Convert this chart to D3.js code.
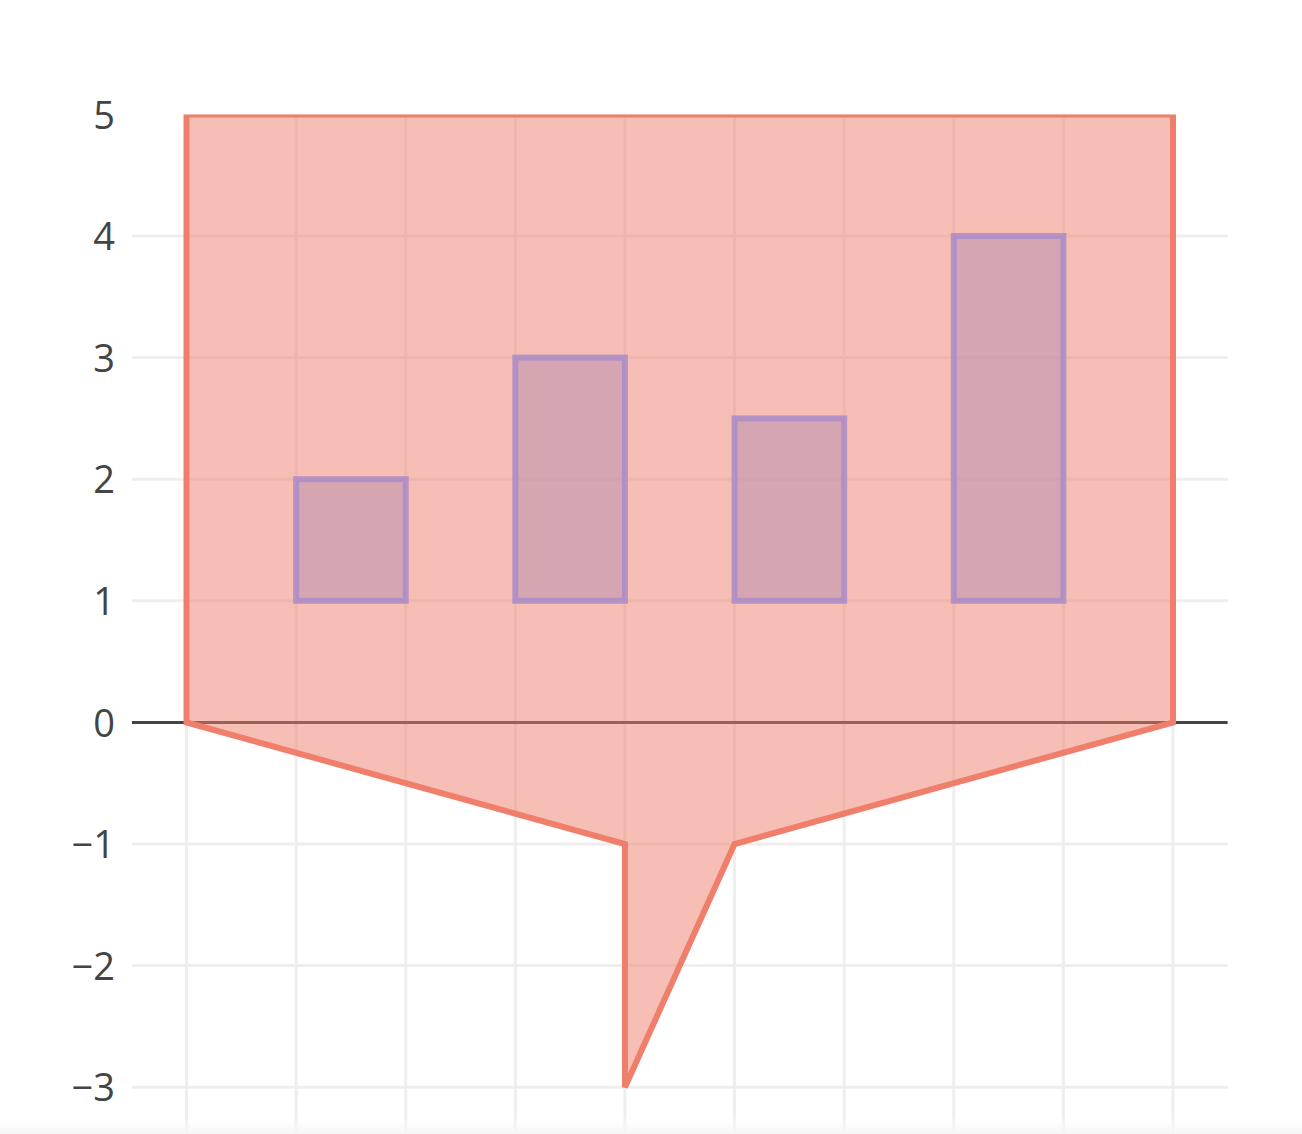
<!DOCTYPE html>
<html>
<head>
<meta charset="utf-8">
<script src="https://cdn.jsdelivr.net/npm/d3@7"></script>
<style>
html,body{margin:0;padding:0;background:#fff;}
svg{display:block;}
</style>
</head>
<body>
<svg id="chart" width="1302" height="1134"></svg>
<script>
// ---- data ----
const xTicks = [0, 1, 2, 3, 4, 5, 6, 7, 8, 9];
const yTicks = [-3, -2, -1, 0, 1, 2, 3, 4, 5];
const polyX = [0, 0, 9, 9, 5, 4, 4];
const polyY = [0, 5, 5, 0, -1, -3, -1];
const barX0 = [1, 3, 5, 7];
const barX1 = [2, 4, 6, 8];
const barY0 = [1, 1, 1, 1];
const barY1 = [2, 3, 2.5, 4];

// ---- layout ----
const W = 1302, H = 1134;
const plotLeft = 131.7, plotRight = 1227.8, plotTop = 114.4;
const x = d3.scaleLinear().domain([-0.5, 9.5]).range([plotLeft, plotRight]);
const y = d3.scaleLinear().domain([-3.5, 5]).range([plotTop + 8.5 * 121.6, plotTop]);

const svg = d3.select("#chart");
const defs = svg.append("defs");
defs.append("clipPath").attr("id", "plotclip")
  .append("rect").attr("x", plotLeft).attr("y", plotTop)
  .attr("width", plotRight - plotLeft).attr("height", H - plotTop + 50);
const grad = defs.append("linearGradient").attr("id", "bottomfade")
  .attr("x1", 0).attr("x2", 0).attr("y1", 0).attr("y2", 1);
grad.append("stop").attr("offset", "0%").attr("stop-color", "#ffffff").attr("stop-opacity", 0);
grad.append("stop").attr("offset", "100%").attr("stop-color", "#f3f4f6").attr("stop-opacity", 1);

const plot = svg.append("g").attr("clip-path", "url(#plotclip)");

// vertical grid
plot.append("g").selectAll("line").data(xTicks).join("line")
  .attr("x1", d => x(d)).attr("x2", d => x(d))
  .attr("y1", plotTop).attr("y2", H + 20)
  .attr("stroke", "#eeeeee").attr("stroke-width", 3);

// horizontal grid (skip zero line and top edge)
plot.append("g").selectAll("line").data(yTicks.filter(d => d !== 0 && d !== 5)).join("line")
  .attr("x1", plotLeft).attr("x2", plotRight)
  .attr("y1", d => y(d)).attr("y2", d => y(d))
  .attr("stroke", "#eeeeee").attr("stroke-width", 3);

// zero line
plot.append("line")
  .attr("x1", plotLeft).attr("x2", plotRight)
  .attr("y1", y(0)).attr("y2", y(0))
  .attr("stroke", "#444444").attr("stroke-width", 3);

// polygon shape
const polyPts = polyX.map((v, i) => [x(v), y(polyY[i])]);
plot.append("path")
  .attr("d", d3.line()(polyPts) + "Z")
  .attr("fill", "rgba(239,126,107,0.5)")
  .attr("stroke", "rgb(239,126,107)")
  .attr("stroke-width", 6)
  .attr("stroke-linejoin", "miter");

// bar rectangles
plot.append("g").selectAll("rect").data(barX0).join("rect")
  .attr("x", (d, i) => x(barX0[i]))
  .attr("y", (d, i) => y(barY1[i]))
  .attr("width", (d, i) => x(barX1[i]) - x(barX0[i]))
  .attr("height", (d, i) => y(barY0[i]) - y(barY1[i]))
  .attr("fill", "rgba(180,140,175,0.5)")
  .attr("stroke", "rgba(170,140,200,0.85)")
  .attr("stroke-width", 6);

// y axis labels
const yAxis = d3.axisLeft(y).tickValues(yTicks).tickSize(0).tickPadding(0)
  .tickFormat(d3.format("d"));
const ya = svg.append("g").attr("transform", `translate(${115},0)`).call(yAxis);
ya.select(".domain").remove();
ya.selectAll("text")
  .attr("font-family", "'Open Sans', sans-serif")
  .attr("font-size", 38)
  .attr("fill", "#444444")
  .attr("dy", "0.36em");

// bottom fade
svg.append("rect").attr("x", 0).attr("y", 1116).attr("width", W).attr("height", 18)
  .attr("fill", "url(#bottomfade)");
</script>
</body>
</html>
